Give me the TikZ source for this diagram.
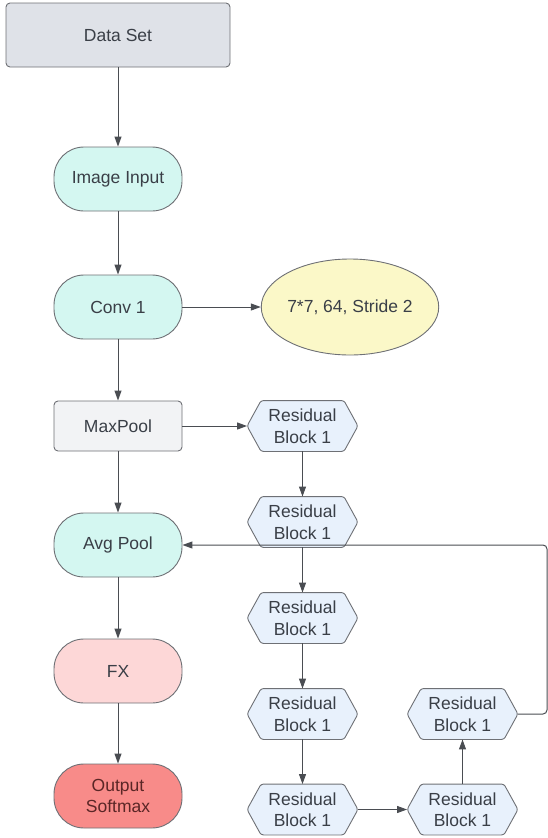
\documentclass[tikz,border=0pt]{standalone}
\usepackage{fontspec}
\setmainfont{Liberation Sans}
\usetikzlibrary{arrows.meta,calc,backgrounds,shapes.geometric}
\definecolor{txt}{HTML}{3A3F47}
\definecolor{edge}{HTML}{6E7075}
\definecolor{arr}{HTML}{4A4D52}
\definecolor{dsfill}{HTML}{DFE2E8}
\definecolor{mint}{HTML}{D4F7F1}
\definecolor{yel}{HTML}{FBF8C8}
\definecolor{mpfill}{HTML}{F2F3F5}
\definecolor{hexfill}{HTML}{E8F1FC}
\definecolor{pink}{HTML}{FDD7D7}
\definecolor{redf}{HTML}{F88B89}
\definecolor{redtxt}{HTML}{5A2626}
\tikzset{
  x=1pt,y=-1pt,
  base/.style={font=\fontsize{17.5}{21.5}\selectfont, text=txt, align=center, draw=edge, line width=0.9pt, inner sep=0pt},
  sqbox/.style={base, rectangle, rounded corners=4pt},
  stadium/.style={base, rectangle, rounded corners=30pt, minimum width=128pt, minimum height=64pt},
  hexnode/.style={base, draw=none, minimum width=110pt, minimum height=50pt},
  hexdraw/.style={draw=edge, fill=hexfill, line width=0.9pt, rounded corners=2.5pt},
  conn/.style={draw=arr, line width=1pt, -{Triangle[length=10pt,width=7pt]}},
}
\begin{document}
\begin{tikzpicture}
\useasboundingbox (0,0) rectangle (548,838);
% left column
\node[sqbox, fill=dsfill, minimum width=224pt, minimum height=64pt] (ds) at (118,35) {Data Set};
\node[stadium, fill=mint] (img) at (118,179) {Image Input};
\node[stadium, fill=mint] (conv) at (118,307) {Conv 1};
\node[base, ellipse, fill=yel, minimum width=144pt, minimum height=96pt] (ell) at (350,307) {7*7, 64, Stride 2};
\node[sqbox, fill=mpfill, minimum width=128pt, minimum height=50pt] (mp) at (118,426) {MaxPool};
\node[stadium, fill=mint] (avg) at (118,545) {Avg Pool};
\node[stadium, fill=pink] (fx) at (118,671) {FX};
\node[stadium, fill=redf, text=redtxt] (out) at (118,796) {Output\\Softmax};
% residual blocks
\node[hexnode] (r1) at (302.5,426) {Residual\\Block 1};
\node[hexnode] (r2) at (302.5,522) {Residual\\Block 1};
\node[hexnode] (r3) at (302.5,618) {Residual\\Block 1};
\node[hexnode] (r4) at (302.5,714) {Residual\\Block 1};
\node[hexnode] (r5) at (302.5,809.5) {Residual\\Block 1};
\node[hexnode] (r6) at (462.5,809.5) {Residual\\Block 1};
\node[hexnode] (r7) at (462.5,714) {Residual\\Block 1};
\begin{scope}[on background layer]
\foreach \n in {r1,r2,r3,r4,r5,r6,r7}{
  \draw[hexdraw] (\n.west) -- ($(\n.north west)+(14,0)$) -- ($(\n.north east)+(-14,0)$) -- (\n.east) -- ($(\n.south east)+(-14,0)$) -- ($(\n.south west)+(14,0)$) -- cycle;
}
\end{scope}
% connectors
\draw[conn] (ds) -- (img);
\draw[conn] (img) -- (conv);
\draw[conn] (conv) -- (ell);
\draw[conn] (conv) -- (mp);
\draw[conn] (mp) -- (avg);
\draw[conn] (avg) -- (fx);
\draw[conn] (fx) -- (out);
\draw[conn] (mp) -- (r1);
\draw[conn] (r1) -- (r2);
\draw[conn] (r2) -- (r3);
\draw[conn] (r3) -- (r4);
\draw[conn] (r4) -- (r5);
\draw[conn] (r5) -- (r6);
\draw[conn] (r6) -- (r7);
\coordinate (lpA) at (547,714);
\coordinate (lpB) at (547,545);
\draw[conn, rounded corners=4pt] (r7.east) -- (lpA) -- (lpB) -- (avg.east);
\end{tikzpicture}
\end{document}
